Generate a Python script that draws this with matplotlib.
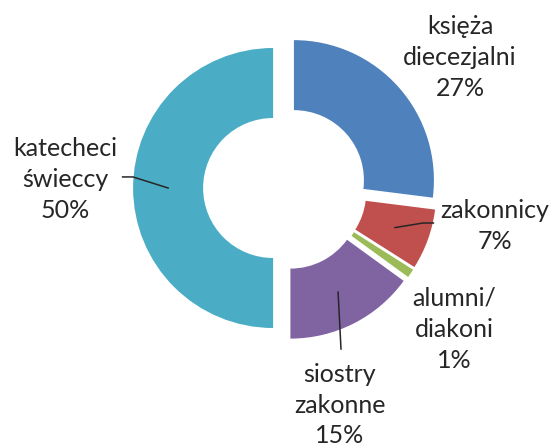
import matplotlib.pyplot as plt
import numpy as np

labels = ['księża\ndiecezjalni', 'zakonnicy', 'alumni/\ndiakoni', 'siostry\nzakonne', 'katecheci\nświeccy']
values = [27, 7, 1, 15, 50]
colors = ['#4F81BD', '#C0504D', '#9BBB59', '#8064A2', '#4BACC6']

# label block centres (data units, radius = 1)
label_pos = [(1.25, 0.93), (1.50, -0.27), (1.21, -1.01), (0.39, -1.55), (-1.57, 0.06)]
# leader lines: None or list of extra points after the wedge anchor
leaders = [None, [(0.986, -0.25), (1.06, -0.25)], None, [(0.40, -1.15)],
           [(-1.086, 0.079), (-1.16, 0.079)]]

explode_r = 0.085

plt.rcParams['font.family'] = ['Lato', 'DejaVu Sans']

fig = plt.figure(figsize=(5.53, 4.48), dpi=100)
ax = fig.add_axes([0, 0, 1, 1])

wedges, _ = ax.pie(values, colors=colors, startangle=90, counterclock=False,
                   explode=[explode_r] * len(values),
                   wedgeprops=dict(width=0.5, edgecolor='none'))

for w, lab, v, pos, lead in zip(wedges, labels, values, label_pos, leaders):
    ax.text(pos[0], pos[1], f'{lab}\n{v}%', ha='center', va='center',
            fontsize=18, color='#262626', linespacing=1.42)
    if lead is not None:
        ang = np.deg2rad((w.theta1 + w.theta2) / 2)
        cx, cy = w.center
        anchor = (cx + 0.75 * np.cos(ang), cy + 0.75 * np.sin(ang))
        pts = [anchor] + lead
        ax.plot([p[0] for p in pts], [p[1] for p in pts], color='#262626', lw=1.1)

ax.set_aspect('equal')
ax.set_xlim(-285 / 140, (553 - 285) / 140)
ax.set_ylim(-(448 - 188) / 140, 188 / 140)
ax.axis('off')

fig.savefig('out.png', dpi=100)
